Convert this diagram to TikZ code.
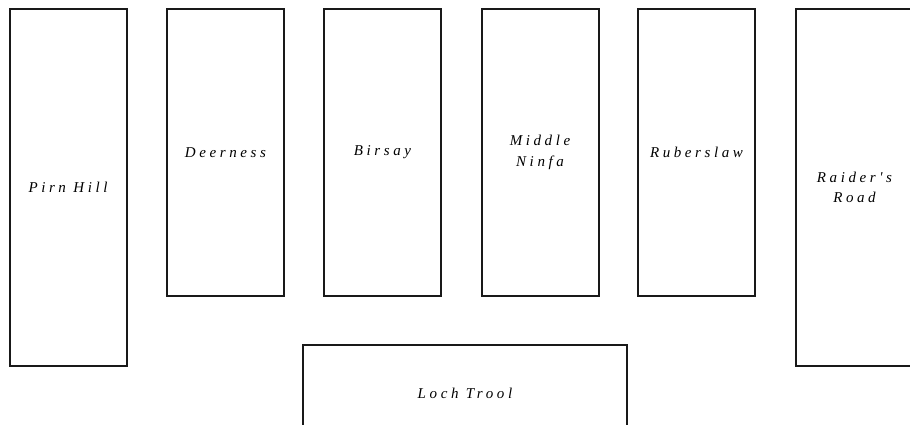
\documentclass[tikz,border=0pt]{standalone}
\usepackage{fontspec}
\setmainfont{Liberation Serif}
\newfontfamily\lblfont[LetterSpace=24]{Liberation Serif}
\begin{document}
\begin{tikzpicture}[x=1pt,y=-1pt,
  room/.style={draw=black!90, line width=2pt, fill=white, inner sep=0pt,
    font=\lblfont\itshape\fontsize{15}{20.5}\selectfont, align=center},
  tall/.style={room, minimum width=117pt, minimum height=357pt},
  mid/.style={room, minimum width=117pt, minimum height=287pt}]
\useasboundingbox (0,0) rectangle (910,424);
\clip (0,0) rectangle (910,424);
\node[tall] (pirn) at (68,187.5) {Pirn Hill};
\node[mid] (deer) at (225.5,152.5) {Deerness};
\node[mid] (birs) at (382.5,152.5) {Birsay};
\node[mid] (ninf) at (540,152.5) {Middle\\Ninfa};
\node[mid] (rube) at (696.5,152.5) {Ruberslaw};
\node[tall] (raid) at (854.5,187.5) {Raider's\\Road};
\node[room, minimum width=324pt, minimum height=96pt] (loch) at (465,393) {Loch Trool};
\end{tikzpicture}
\end{document}
